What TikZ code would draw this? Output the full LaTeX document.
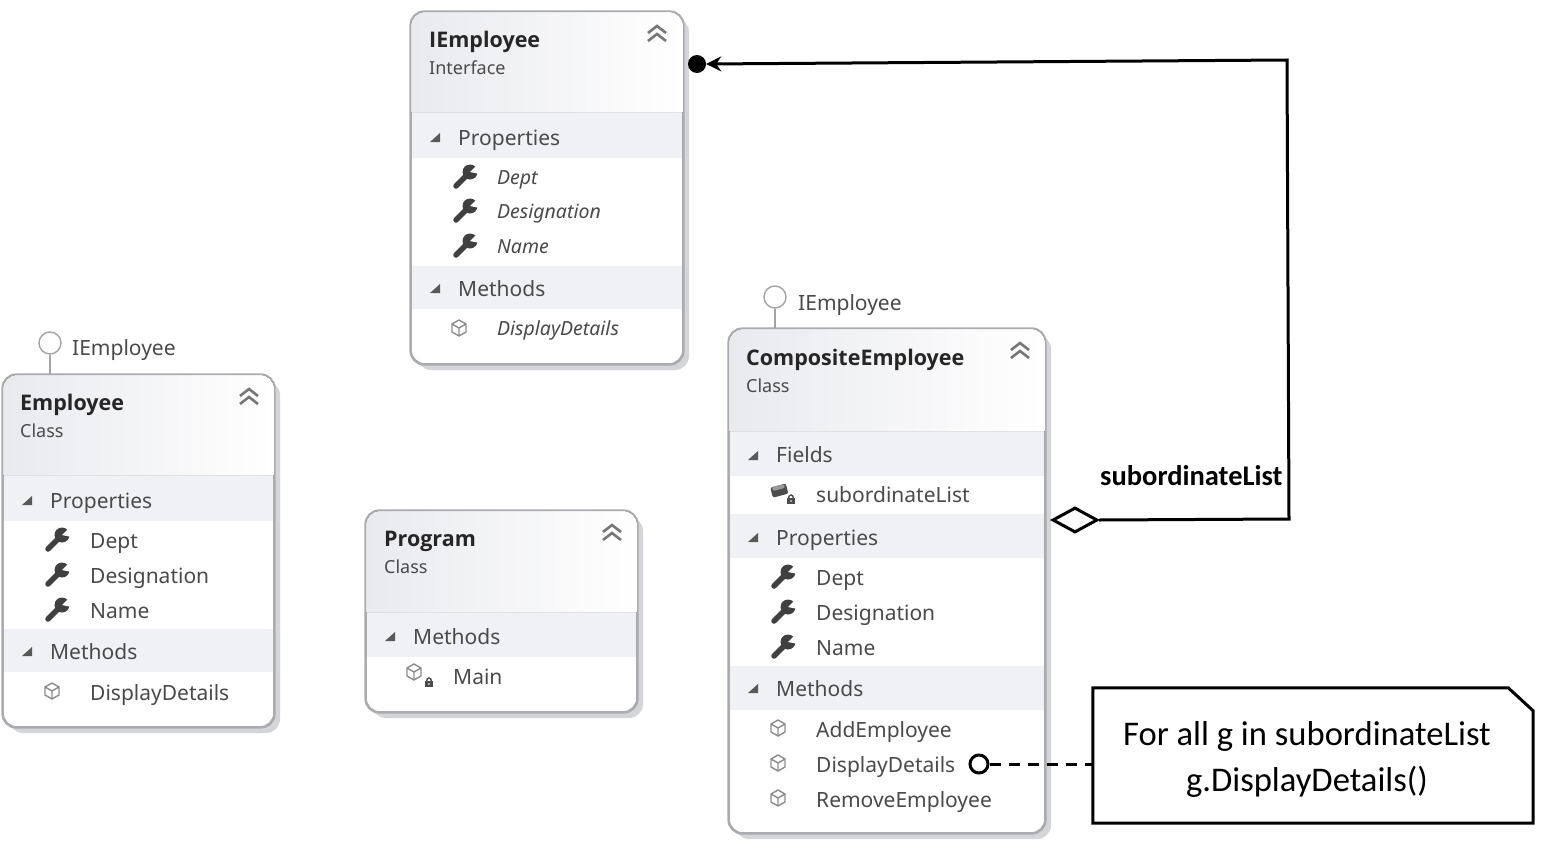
\documentclass[tikz,border=0pt]{standalone}
\usepackage{xcolor}
\usepackage{fontspec}
\setmainfont{Noto Sans}
\newfontfamily\notefont{Carlito}
\newfontfamily\titlefont{Open Sans}
\usetikzlibrary{fit,shadows,shapes.geometric,arrows.meta}
\definecolor{boxline}{HTML}{A9ABAE}
\definecolor{bandgrey}{HTML}{F0F1F4}
\definecolor{headgrey}{HTML}{E9EAEE}
\definecolor{shadowgrey}{HTML}{D4D5D8}
\definecolor{textgrey}{HTML}{4A4A4A}
\definecolor{icongrey}{HTML}{8C8C8C}
\tikzset{
  classbox/.style={draw=boxline, line width=1.6pt, fill=white, rounded corners=14pt, inner sep=0pt,
    drop shadow={shadow xshift=6pt, shadow yshift=-6pt, fill=shadowgrey, opacity=1}},
  classtitle/.style={anchor=base west, inner sep=0pt, yshift=-8pt, text=black!85, font=\titlefont\fontsize{21.5}{25}\selectfont\bfseries},
  classkind/.style={anchor=base west, inner sep=0pt, yshift=-7pt, text=textgrey, font=\fontsize{18}{22}\selectfont},
  secname/.style={anchor=base west, inner sep=0pt, yshift=-8pt, text=textgrey, font=\fontsize{21}{25}\selectfont},
  membername/.style={anchor=base west, inner sep=0pt, yshift=-8pt, text=textgrey, font=\fontsize{21}{25}\selectfont},
  abstractname/.style={membername, yshift=1pt, font=\fontsize{19.5}{25}\selectfont\itshape},
  lolli/.style={circle, draw=icongrey!80, line width=1.4pt, fill=white, minimum size=22pt, inner sep=0pt},
  pics/wrench/.style={code={
    \draw[black!75, line width=5.5pt, line cap=round] (-9,9) -- (2,-2);
    \fill[black!75] (5,-5) circle (7.5);
    \fill[white] (5,-5) -- (13,-13) -- (15,-3) -- cycle;
  }},
  pics/cube/.style={code={
    \draw[icongrey, line width=1.4pt, line join=round] (0,-8) -- (7,-4) -- (7,4) -- (0,8) -- (-7,4) -- (-7,-4) -- cycle;
    \draw[icongrey, line width=1.4pt] (-7,-4) -- (0,0) -- (7,-4) (0,0) -- (0,8);
  }},
  pics/lock/.style={code={
    \fill[black!70] (-5,-1) rectangle (5,6);
    \draw[black!70, line width=1.4pt] (-3,-1) arc (180:360:3 and 4);
    \fill[white] (0,2.5) circle (1.2);
  }},
  pics/fieldicon/.style={code={
    \fill[black!70, rotate=15, rounded corners=2pt] (-11,-6) rectangle (9,7);
    \fill[black!40, rotate=15, rounded corners=2pt] (-9,-6) rectangle (7,-1);
  }},
  pics/chevrons/.style={code={
    \draw[icongrey!85!black, line width=2.6pt] (-9,-2) -- (0,-9) -- (9,-2);
    \draw[icongrey!85!black, line width=2.6pt] (-9,6) -- (0,-1) -- (9,6);
  }},
  pics/opentri/.style={code={
    \fill[black!65] (5,-5) -- (5,4) -- (-5,4) -- cycle;
  }},
}
% box outline with shaded header: name, x1, y1, x2, y2, bottom of header
\newcommand{\classnode}[6]{
  \node[classbox, fit={(#2,#3)(#4,#5)}] (#1) {};
  \fill[left color=headgrey, right color=white]
    (#2,#6) [rounded corners=14pt] -- (#2,#3) -- (#4,#3) [sharp corners] -- (#4,#6) -- cycle;
  \draw[boxline, line width=1.6pt, rounded corners=14pt] (#1.north west) rectangle (#1.south east);
}
% grey section band: x1, x2, y1, y2
\newcommand{\secband}[4]{
  \fill[bandgrey] (#1+1,#3) rectangle (#2-1,#4);
}
\begin{document}
\begin{tikzpicture}[x=1pt,y=-1pt]
  \useasboundingbox (0,0) rectangle (1543,841);
  \fill[white] (0,0) rectangle (1543,841);

  % IEmployee interface
  \classnode{iemp}{411}{12}{683}{364}{112}
  \secband{411}{683}{113}{158}
  \secband{411}{683}{266}{309}
  \node[classtitle] (iempTitle) at (429,39) {IEmployee};
  \node[classkind] (iempKind) at (429,67) {Interface};
  \pic at (657,35) {chevrons};
  \pic at (435,138) {opentri};
  \node[secname] (iempProps) at (458,137) {Properties};
  \foreach \ypos/\txt in {177/Dept,211/Designation,246/Name} {
    \pic at (465,\ypos) {wrench};
    \node[abstractname] (iemp\txt) at (497,\ypos) {\txt};
  }
  \pic at (435,289) {opentri};
  \node[secname] (iempMethods) at (458,288) {Methods};
  \pic at (459,328) {cube};
  \node[abstractname] (iempDisplay) at (497,328) {DisplayDetails};

  % Employee class
  \classnode{emp}{3}{375}{274}{727}{475}
  \secband{3}{274}{476}{521}
  \secband{3}{274}{629}{672}
  \node[classtitle] (empTitle) at (20,402) {Employee};
  \node[classkind] (empKind) at (20,430) {Class};
  \pic at (249,398) {chevrons};
  \pic at (27,501) {opentri};
  \node[secname] (empProps) at (50,500) {Properties};
  \foreach \ypos/\txt in {540/Dept,575/Designation,610/Name} {
    \pic at (57,\ypos) {wrench};
    \node[membername] (emp\txt) at (90,\ypos) {\txt};
  }
  \pic at (27,652) {opentri};
  \node[secname] (empMethods) at (50,651) {Methods};
  \pic at (52,691) {cube};
  \node[membername] (empDisplay) at (90,692) {DisplayDetails};
  \node[lolli] (empLolli) at (50,343) {};
  \draw[icongrey!80, line width=1.4pt] (empLolli.south) -- (emp.north -| empLolli);
  \node[membername] (empIface) at (72,347) {IEmployee};

  % Program class
  \classnode{prog}{366}{511}{637}{712}{612}
  \secband{366}{637}{613}{657}
  \node[classtitle] (progTitle) at (384,538) {Program};
  \node[classkind] (progKind) at (384,566) {Class};
  \pic at (612,534) {chevrons};
  \pic at (390,637) {opentri};
  \node[secname] (progMethods) at (413,636) {Methods};
  \pic at (414,672) {cube};
  \pic[scale=.8] at (429,682) {lock};
  \node[membername] (progMain) at (453,676) {Main};

  % CompositeEmployee class
  \classnode{comp}{729}{329}{1045}{833}{431}
  \secband{729}{1045}{432}{476}
  \secband{729}{1045}{514}{558}
  \secband{729}{1045}{666}{710}
  \node[classtitle] (compTitle) at (746,357) {CompositeEmployee};
  \node[classkind] (compKind) at (746,385) {Class};
  \pic at (1020,352) {chevrons};
  \pic at (753,456) {opentri};
  \node[secname] (compFields) at (776,454) {Fields};
  \pic[scale=.8] at (780,490) {fieldicon};
  \pic[scale=.8] at (791,499) {lock};
  \node[membername] (compList) at (816,494) {subordinateList};
  \pic at (753,538) {opentri};
  \node[secname] (compProps) at (776,537) {Properties};
  \foreach \ypos/\txt in {577/Dept,612/Designation,647/Name} {
    \pic at (783,\ypos) {wrench};
    \node[membername] (comp\txt) at (816,\ypos) {\txt};
  }
  \pic at (753,689) {opentri};
  \node[secname] (compMethods) at (776,688) {Methods};
  \foreach \ypos/\txt in {729/AddEmployee,764/DisplayDetails,799/RemoveEmployee} {
    \pic at (778,\ypos-1) {cube};
    \node[membername] (comp\txt) at (816,\ypos) {\txt};
  }
  \node[lolli] (compLolli) at (775,297) {};
  \draw[icongrey!80, line width=1.4pt] (compLolli.south) -- (comp.north -| compLolli);
  \node[membername] (compIface) at (798,302) {IEmployee};

  % aggregation link back to the interface
  \node[diamond, draw=black, line width=3pt, fill=white, minimum width=45pt, minimum height=25pt, inner sep=0pt, aspect=1.8] (aggDiamond) at (1075,520) {};
  \node[circle, fill=black, minimum size=18pt, inner sep=0pt] (topDot) at (697,64) {};
  \coordinate (bendLow) at (1289,519);
  \coordinate (bendTop) at (1287,60);
  \draw[black, line width=3pt, -{Stealth[length=15pt,width=15pt]}] (aggDiamond.east) -- (bendLow) -- (bendTop) -- (topDot.east);
  \node[inner sep=0pt, anchor=west, text=black, font=\notefont\fontsize{28.5}{30}\selectfont\bfseries] (aggLabel) at (1100,476) {subordinateList};

  % note on DisplayDetails
  \node[inner sep=0pt, minimum width=440pt, minimum height=135pt] (noteBox) at (1313,755.5) {};
  \draw[black, line width=3pt, line join=miter] (noteBox.north west) -- ([xshift=-25pt]noteBox.north east) -- ([yshift=-23pt]noteBox.north east) -- (noteBox.south east) -- (noteBox.south west) -- cycle;
  \node[inner sep=0pt, align=center, font=\notefont\fontsize{34.6}{45}\selectfont] (noteText) at (1307,759) {For all g in subordinateList\\[1pt]g.DisplayDetails()};
  \node[circle, draw=black, line width=3pt, fill=white, minimum size=18pt, inner sep=0pt] (noteDot) at (979,764) {};
  \draw[black, line width=3pt, dash pattern=on 11pt off 8pt] (noteDot.east) -- (noteBox.west |- noteDot);
\end{tikzpicture}
\end{document}
